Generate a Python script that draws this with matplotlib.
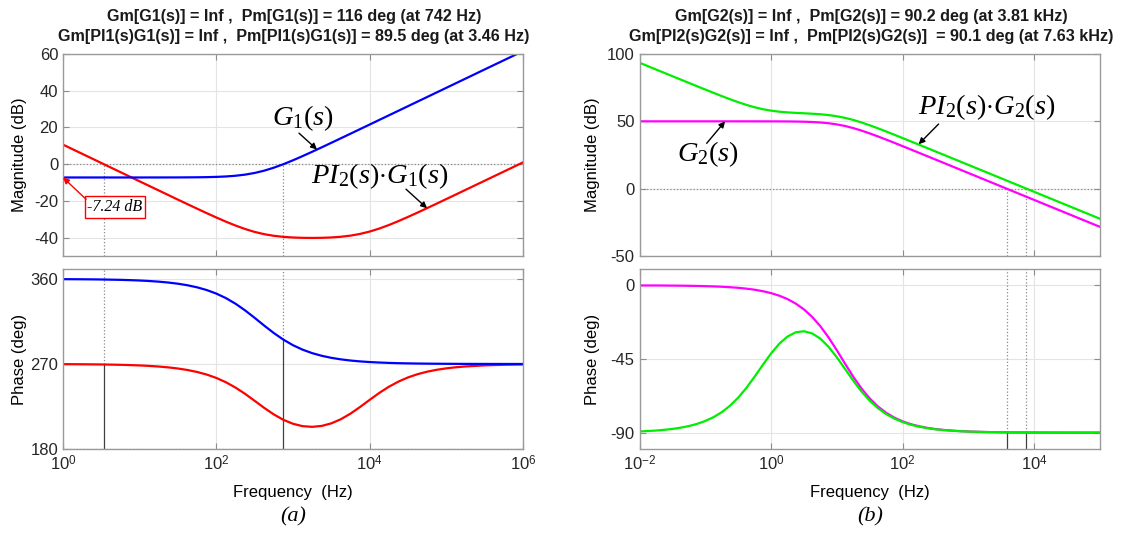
import math

import matplotlib
matplotlib.use("Agg")
import matplotlib.pyplot as plt
from matplotlib.ticker import NullLocator

plt.rcParams.update({
    "font.family": "Liberation Sans",
    "font.size": 12,
    "axes.unicode_minus": False,
    "mathtext.fontset": "custom",
    "mathtext.rm": "Liberation Serif",
    "mathtext.it": "Liberation Serif:italic",
    "mathtext.sf": "Liberation Sans",
})

# ---- (a): G1(s) and PI2(s)G1(s)
freq_a = [1, 1.778, 3.162, 5.623, 7.499, 10, 13.34, 17.78, 23.71, 31.62,
          42.17, 56.23, 74.99, 100, 133.4, 177.8, 237.1, 316.2, 421.7, 562.3,
          749.9, 1000, 1334, 1778, 2371, 3162, 4217, 5623, 7499, 1e4, 13335,
          17783, 23714, 31623, 42170, 56234, 74989, 1e5, 133352, 177828,
          316228, 562341, 1e6]
g1_mag = [-7.24, -7.24, -7.24, -7.24, -7.24, -7.24, -7.23, -7.23, -7.22, -7.21,
          -7.18, -7.14, -7.06, -6.92, -6.69, -6.30, -5.69, -4.78, -3.52, -1.91,
          0.00, 2.12, 4.40, 6.76, 9.18, 11.64, 14.12, 16.60, 19.10, 21.59, 24.09,
          26.59, 29.09, 31.59, 34.09, 36.58, 39.09, 41.59, 44.09, 46.59,
          51.59, 56.58, 61.58]
g1_phase = [359.84, 359.72, 359.50, 359.11, 358.81, 358.42, 357.89, 357.19,
            356.25, 355.01, 353.36, 351.17, 348.30, 344.56, 339.77, 333.84,
            326.78, 318.86, 310.64, 302.78, 295.77, 289.90, 285.18, 281.51,
            278.68, 276.53, 274.91, 273.68, 272.76, 272.07, 271.56, 271.17,
            270.87, 270.66, 270.49, 270.37, 270.28, 270.21, 270.16, 270.12,
            270.07, 270.04, 270.02]
pig1_mag = [10.65, 5.65, 0.65, -4.35, -6.86, -9.35, -11.85, -14.34, -16.83,
            -19.33, -21.79, -24.25, -26.67, -29.03, -31.30, -33.41, -35.30,
            -36.89, -38.12, -39.00, -39.58, -39.93, -40.11, -40.16, -40.10,
            -39.90, -39.52, -38.91, -37.97, -36.69, -35.06, -33.14, -31.00,
            -28.71, -26.35, -23.92, -21.46, -18.98, -16.50, -14.00, -9.01,
            -4.02, 0.98]
pig1_phase = [269.85, 269.73, 269.52, 269.15, 268.86, 268.49, 267.98, 267.31,
              266.41, 265.22, 263.64, 261.55, 258.81, 255.24, 250.68, 245.05,
              238.40, 231.02, 223.51, 216.61, 210.87, 206.69, 204.20, 203.46,
              204.44, 207.16, 211.57, 217.48, 224.51, 232.04, 239.36, 245.88,
              251.37, 255.79, 259.23, 261.87, 263.89, 265.41, 266.55, 267.42,
              268.55, 269.18, 269.54]
# crossover frequency (Hz) and phase there: PI2*G1, then G1
wc_a = [3.46, 742]
pc_a = [269.5, 296.0]

# ---- (b): G2(s) and PI2(s)G2(s)
freq_b = [0.01, 0.01778, 0.02371, 0.03162, 0.04217, 0.05623, 0.07499, 0.1,
          0.1334, 0.1778, 0.2371, 0.3162, 0.4217, 0.5623, 0.7499, 1, 1.334,
          1.778, 2.371, 3.162, 4.217, 5.623, 7.499, 10, 13.34, 17.78, 23.71,
          31.62, 42.17, 56.23, 74.99, 100, 133.4, 177.8, 237.1, 316.2, 421.7,
          562.3, 749.9, 1000, 1778, 3162, 5623, 1e4, 17783, 31623, 56234, 1e5]
g2_mag = [50.00, 50.00, 50.00, 50.00, 50.00, 50.00, 50.00, 50.00, 50.00, 50.00,
          50.00, 50.00, 49.99, 49.99, 49.98, 49.97, 49.95, 49.91, 49.84, 49.71,
          49.50, 49.14, 48.58, 47.72, 46.53, 44.98, 43.12, 41.03, 38.78, 36.43,
          34.01, 31.56, 29.08, 26.60, 24.11, 21.61, 19.12, 16.62, 14.12, 11.62,
          6.62, 1.62, -3.38, -8.38, -13.38, -18.38, -23.38, -28.38]
g2_phase = [-0.05, -0.08, -0.11, -0.15, -0.20, -0.27, -0.36, -0.48, -0.63,
            -0.85, -1.13, -1.50, -2.00, -2.67, -3.56, -4.74, -6.32, -8.40,
            -11.13, -14.70, -19.29, -25.01, -31.89, -39.69, -47.90, -55.88,
            -63.06, -69.14, -74.05, -77.90, -80.87, -83.13, -84.84, -86.12,
            -87.09, -87.82, -88.36, -88.77, -89.08, -89.31, -89.61, -89.78,
            -89.88, -89.93, -89.96, -89.98, -89.99, -89.99]
pig2_mag = [93.52, 88.52, 86.03, 83.53, 81.04, 78.55, 76.06, 73.60, 71.15,
            68.76, 66.44, 64.23, 62.21, 60.45, 59.01, 57.93, 57.16, 56.64,
            56.27, 55.97, 55.65, 55.24, 54.64, 53.76, 52.56, 51.01, 49.15,
            47.05, 44.80, 42.45, 40.03, 37.58, 35.10, 32.62, 30.13, 27.63,
            25.14, 22.64, 20.14, 17.64, 12.64, 7.64, 2.64, -2.36, -7.36,
            -12.36, -17.36, -22.36]
pig2_phase = [-89.29, -88.73, -88.30, -87.74, -86.98, -85.98, -84.65, -82.89,
              -80.55, -77.51, -73.58, -68.64, -62.66, -55.81, -48.57, -41.61,
              -35.66, -31.27, -28.68, -28.04, -29.37, -32.61, -37.61, -43.98,
              -51.12, -58.30, -64.87, -70.50, -75.07, -78.66, -81.44, -83.56,
              -85.16, -86.36, -87.27, -87.96, -88.47, -88.85, -89.14, -89.35,
              -89.63, -89.79, -89.89, -89.93, -89.96, -89.98, -89.99, -89.99]
wc_b = [3810, 7630]
pc_b = [-89.8, -89.9]

title_a = ["Gm[G1(s)] = Inf ,  Pm[G1(s)] = 116 deg (at 742 Hz)",
           "Gm[PI1(s)G1(s)] = Inf ,  Pm[PI1(s)G1(s)] = 89.5 deg (at 3.46 Hz)"]
title_b = ["Gm[G2(s)] = Inf ,  Pm[G2(s)] = 90.2 deg (at 3.81 kHz)",
           "Gm[PI2(s)G2(s)] = Inf ,  Pm[PI2(s)G2(s)]  = 90.1 deg (at 7.63 kHz)"]

W, H = 1128, 533
fig = plt.figure(figsize=(W / 100, H / 100), dpi=100)


def box(x0, x1, top, bottom):
    return [x0 / W, 1 - bottom / H, (x1 - x0) / W, (bottom - top) / H]


def style(ax, xlim, xticks, ylim, yticks):
    ax.set_xscale("log")
    ax.set_xlim(xlim)
    ax.set_ylim(ylim)
    ax.set_xticks(xticks)
    ax.set_yticks(yticks)
    ax.xaxis.set_minor_locator(NullLocator())
    ax.grid(True, color="#e4e4e4", lw=0.8)
    ax.set_axisbelow(True)
    ax.tick_params(direction="in", top=True, right=True, length=4,
                   color="#8c8c8c", labelcolor="#262626", labelsize=12)
    for sp in ax.spines.values():
        sp.set_color("#9a9a9a")
        sp.set_linewidth(1.0)


def exp_labels(ticks):
    return [r"$\mathsf{10}^{\mathsf{%d}}$" % round(math.log10(t)) for t in ticks]


line_kw = dict(lw=1.6)
dot_kw = dict(color="#8a8a8a", ls=":", lw=0.9)
solid_kw = dict(color="#404040", ls="-", lw=0.9)
arrow = dict(arrowstyle="-|>", color="k", lw=1.0, mutation_scale=9,
             shrinkA=0, shrinkB=0)
ann_size = 20.5

# ================= panel (a)
xt_a = [1, 1e2, 1e4, 1e6]
axm = fig.add_axes(box(63, 523, 54, 256))
style(axm, (1, 1e6), xt_a, (-50, 60), [-40, -20, 0, 20, 40, 60])
axm.set_xticklabels([])
axm.axhline(0, **dot_kw)
axm.vlines(wc_a, -50, 0, **dot_kw)
axm.plot(freq_a, pig1_mag, color="#ff0000", **line_kw)
axm.plot(freq_a, g1_mag, color="#0000ff", **line_kw)
axm.set_ylabel("Magnitude (dB)")
axm.yaxis.set_label_coords(-0.078, 0.5)

axm.text(1350, 25, r"$G_1(s)$", fontsize=ann_size, ha="center", va="center")
axm.annotate("", xy=(2056, 8.0), xytext=(1197, 16.9), arrowprops=arrow)
axm.text(13640, -6.5, r"$PI_2(s){\cdot}G_1(s)$", fontsize=ann_size,
         ha="center", va="center")
axm.annotate("", xy=(56000, -24.0), xytext=(29770, -13.6), arrowprops=arrow)
axm.text(4.77, -23.4, "-7.24 dB", fontsize=11.5, family="Liberation Serif",
         style="italic", ha="center", va="center",
         bbox=dict(boxstyle="square,pad=0.18", fc="white", ec="#ff0000", lw=1.0))
axm.annotate("", xy=(1, g1_mag[0]), xytext=(2.0, -19.1),
             arrowprops=dict(arrow, color="#ff0000"))

axp = fig.add_axes(box(63, 523, 269, 449))
style(axp, (1, 1e6), xt_a, (180, 370.6), [180, 270, 360])
axp.set_xticklabels(exp_labels(xt_a))
axp.axhline(180, **dot_kw)
for f, p in zip(wc_a, pc_a):
    axp.vlines(f, p, 370.6, **dot_kw)
    axp.vlines(f, 180, p, **solid_kw)
axp.plot(freq_a, pig1_phase, color="#ff0000", **line_kw)
axp.plot(freq_a, g1_phase, color="#0000ff", **line_kw)
axp.set_ylabel("Phase (deg)")
axp.yaxis.set_label_coords(-0.078, 0.5)
axp.set_xlabel("Frequency  (Hz)")
axp.xaxis.set_label_coords(0.5, -0.2)

# ================= panel (b)
xt_b = [1e-2, 1, 1e2, 1e4]
bxm = fig.add_axes(box(639.5, 1100, 54, 256))
style(bxm, (1e-2, 1e5), xt_b, (-50, 100), [-50, 0, 50, 100])
bxm.set_xticklabels([])
bxm.axhline(0, **dot_kw)
bxm.vlines(wc_b, -50, 0, **dot_kw)
bxm.plot(freq_b, pig2_mag, color="#00ee00", **line_kw)
bxm.plot(freq_b, g2_mag, color="#ff00ff", **line_kw)
bxm.set_ylabel("Magnitude (dB)")
bxm.yaxis.set_label_coords(-0.085, 0.5)
bxm.text(0.108, 25.5, r"$G_2(s)$", fontsize=ann_size, ha="center", va="center")
bxm.annotate("", xy=(0.2, 50), xytext=(0.105, 33.7), arrowprops=arrow)
bxm.text(1910, 60.7, r"$PI_2(s){\cdot}G_2(s)$", fontsize=ann_size,
         ha="center", va="center")
bxm.annotate("", xy=(175, 33.0), xytext=(352, 48.0), arrowprops=arrow)

bxp = fig.add_axes(box(639.5, 1100, 269, 449))
style(bxp, (1e-2, 1e5), xt_b, (-100, 10), [-90, -45, 0])
bxp.set_xticklabels(exp_labels(xt_b))
for f, p in zip(wc_b, pc_b):
    bxp.vlines(f, p, 10, **dot_kw)
    bxp.vlines(f, -100, p, **solid_kw)
bxp.plot(freq_b, g2_phase, color="#ff00ff", **line_kw)
bxp.plot(freq_b, pig2_phase, color="#00ee00", **line_kw)
bxp.set_ylabel("Phase (deg)")
bxp.yaxis.set_label_coords(-0.085, 0.5)
bxp.set_xlabel("Frequency  (Hz)")
bxp.xaxis.set_label_coords(0.5, -0.2)

# titles and captions
for cx, lines in ((294, title_a), (871, title_b)):
    for yy, s in zip((17, 37), lines):
        fig.text(cx / W, 1 - yy / H, s, ha="center", va="center",
                 fontsize=11.6, fontweight="bold", color="#1a1a1a")
for cx, s in ((293, "(a)"), (870, "(b)")):
    fig.text(cx / W, 1 - 517 / H, s, ha="center", va="center", fontsize=16,
             family="Liberation Serif", style="italic")

fig.savefig("out.png", dpi=100, facecolor="white")
